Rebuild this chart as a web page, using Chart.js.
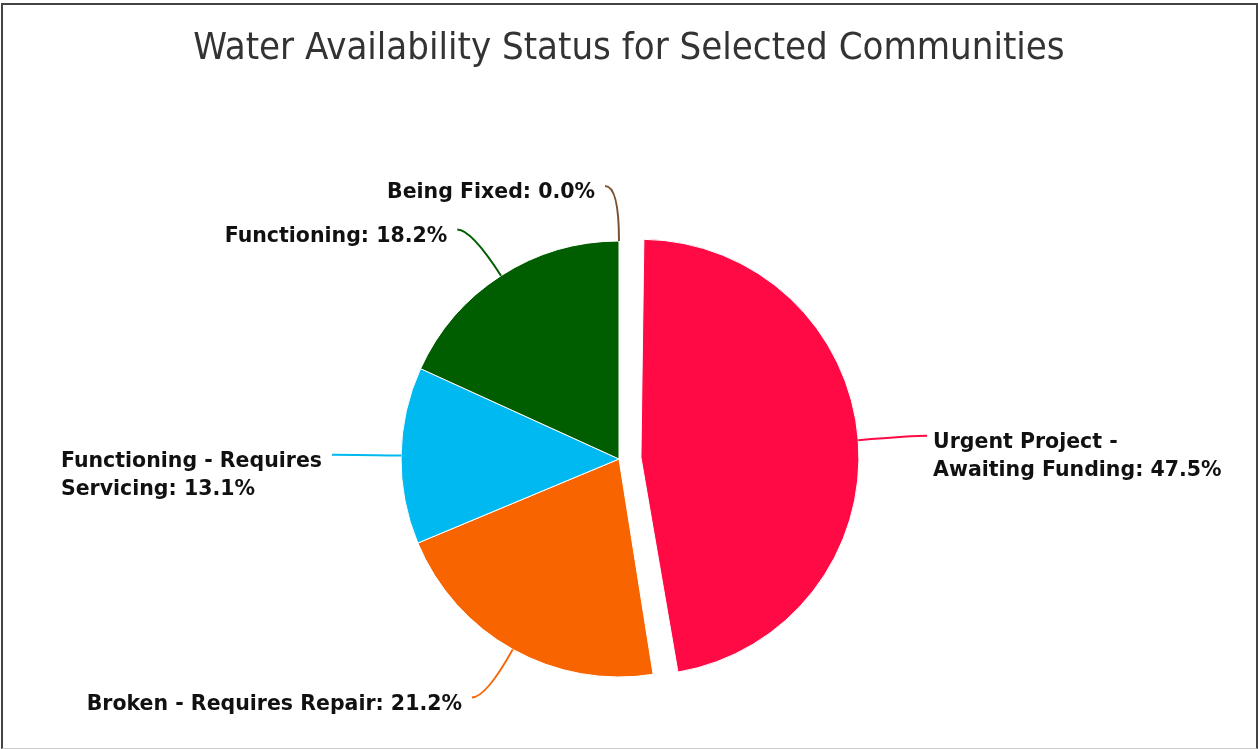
<!DOCTYPE html>
<html>
<head>
<meta charset="utf-8">
<script src="https://cdn.jsdelivr.net/npm/chart.js@4.4.0/dist/chart.umd.min.js"></script>
<style>
  html, body { margin: 0; padding: 0; background: #fff; }
  #wrap { position: absolute; left: 0; top: 0; width: 1258px; height: 749px; }
  #frame {
    position: absolute; left: 1px; top: 3px; width: 1257px; height: 746px;
    box-sizing: border-box; border: 2px solid #444; border-bottom: 1px solid #ccc;
    pointer-events: none;
  }
</style>
</head>
<body>
<div id="wrap"><canvas id="chart"></canvas></div>
<div id="frame"></div>
<script>
const TITLE = 'Water Availability Status for Selected Communities';
// label lines per slice, the percentage goes on the last line
const categories = [
  ['Urgent Project -', 'Awaiting Funding'],
  ['Broken - Requires Repair'],
  ['Functioning - Requires', 'Servicing'],
  ['Functioning'],
  ['Being Fixed']
];
const shares = [47.5, 21.2, 13.1, 18.2, 0.0];
const colors = ['#ff0a45', '#f76400', '#00b9f1', '#005e00', '#7a5230'];
const exploded = [22, 0, 0, 0, 0];
const RADIUS = 218;

const pieLabels = {
  id: 'pieLabels',
  beforeDatasetsDraw(chart) {
    // chart.js grows an offset slice a little, keep it at the same radius
    chart.getDatasetMeta(0).data.forEach((arc, i) => {
      if (!exploded[i]) return;
      const fix = 1 - Math.sin(Math.min(Math.PI, arc.circumference));
      arc.outerRadius = RADIUS - exploded[i] * fix;
    });
  },
  afterDatasetsDraw(chart) {
    const ctx = chart.ctx;
    const meta = chart.getDatasetMeta(0);
    ctx.save();
    ctx.font = 'bold 20.5px "DejaVu Sans"';
    ctx.textBaseline = 'middle';
    ctx.textAlign = 'left';
    meta.data.forEach((arc, i) => {
      const a = (arc.startAngle + arc.endAngle) / 2;
      const dx = Math.cos(a), dy = Math.sin(a);
      const cx = arc.x + dx * exploded[i], cy = arc.y + dy * exploded[i];
      const side = dx > 1e-6 ? 1 : -1;
      const x0 = cx + dx * RADIUS, y0 = cy + dy * RADIUS;
      const xe = cx + dx * (RADIUS + 55), ye = cy + dy * (RADIUS + 55);
      const x1 = xe + side * 14;

      ctx.strokeStyle = colors[i];
      ctx.lineWidth = 2;
      ctx.beginPath();
      ctx.moveTo(x0, y0);
      ctx.quadraticCurveTo(xe, ye, x1, ye);
      ctx.stroke();

      const lines = categories[i].slice();
      lines[lines.length - 1] += ': ' + shares[i].toFixed(1) + '%';
      const w = Math.max(...lines.map(t => ctx.measureText(t).width));
      const tx = side > 0 ? x1 + 6 : x1 - 10 - w;
      ctx.fillStyle = '#111';
      lines.forEach((t, k) => ctx.fillText(t, tx, ye + 7 + k * 28));
    });
    ctx.restore();
  },
  afterDraw(chart) {
    const ctx = chart.ctx;
    ctx.save();
    ctx.font = '38px "DejaVu Sans Condensed", "DejaVu Sans"';
    ctx.fillStyle = '#333';
    ctx.textAlign = 'center';
    ctx.textBaseline = 'middle';
    ctx.fillText(TITLE, chart.width / 2, 49);
    ctx.restore();
  }
};

new Chart(document.getElementById('chart'), {
  type: 'pie',
  plugins: [pieLabels],
  data: {
    labels: categories.map(c => c.join(' ')),
    datasets: [{
      data: shares,
      backgroundColor: colors,
      borderColor: '#fff',
      borderWidth: 1,
      offset: exploded.map(e => e * 4),
      radius: RADIUS
    }]
  },
  options: {
    responsive: true,
    maintainAspectRatio: false,
    animation: false,
    events: [],
    layout: { padding: { top: 169, bottom: 0, left: 0, right: 20 } },
    plugins: {
      legend: { display: false },
      tooltip: { enabled: false }
    }
  }
});
</script>
</body>
</html>
